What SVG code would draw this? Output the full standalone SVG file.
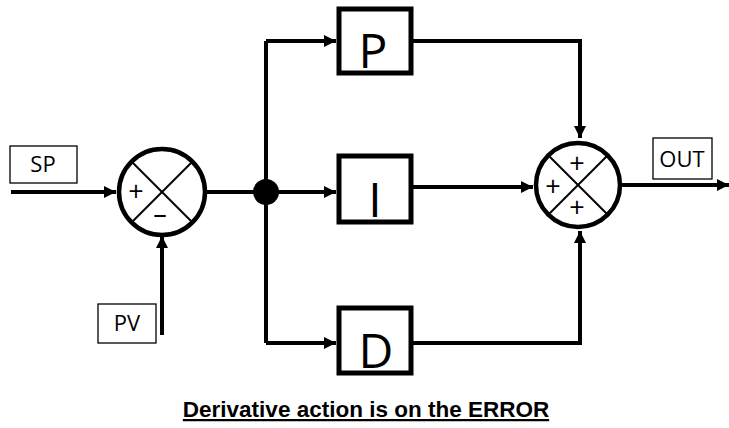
<svg xmlns="http://www.w3.org/2000/svg" width="729" height="428" viewBox="0 0 729 428">
<style>
.ln{fill:none;stroke:#000;stroke-width:4}
.blk{fill:#fff;stroke:#000;stroke-width:5}
.lbl{fill:#fff;stroke:#000;stroke-width:1.3}
.sum{fill:#fff;stroke:#000;stroke-width:4.5}
.x{stroke:#000;stroke-width:2}
.t{font-family:"Open Sans","Liberation Sans",sans-serif;fill:#000;text-anchor:middle}
.big{font-size:48px}
.sm{font-size:22px}
.sg{font-size:27px}
.cap{font-family:"Liberation Sans",Arial,sans-serif;font-weight:bold;font-size:22.5px;text-anchor:middle;text-decoration:underline}
</style>
<defs>
<marker id="ah" viewBox="0 0 10 10" refX="10" refY="5" markerWidth="3" markerHeight="3" markerUnits="strokeWidth" orient="auto">
<path d="M0,0 L10,5 L0,10 z" fill="#000"/>
</marker>
</defs>
<rect width="729" height="428" fill="#fff"/>
<g id="connectors">
<line class="ln" x1="11" y1="192" x2="116" y2="192" marker-end="url(#ah)"/>
<line class="ln" x1="162" y1="335" x2="162" y2="236" marker-end="url(#ah)"/>
<line class="ln" x1="205" y1="192" x2="266" y2="192"/>
<line class="ln" x1="266" y1="192" x2="336" y2="192" marker-end="url(#ah)"/>
<polyline class="ln" points="266,41 266,343"/>
<polyline class="ln" points="266,41 336,41" marker-end="url(#ah)"/>
<polyline class="ln" points="266,343 336,343" marker-end="url(#ah)"/>
<polyline class="ln" points="413,41 580,41 580,138" marker-end="url(#ah)"/>
<polyline class="ln" points="413,187 533,187" marker-end="url(#ah)"/>
<polyline class="ln" points="413,343 580,343 580,231" marker-end="url(#ah)"/>
<line class="ln" x1="622" y1="185" x2="729" y2="185" marker-end="url(#ah)"/>
<circle cx="266" cy="192" r="13" fill="#000"/>
</g>
<g id="sp"><rect class="lbl" x="10" y="146" width="67" height="37"/><text class="t sm" x="43" y="172">SP</text></g>
<g id="pv"><rect class="lbl" x="98" y="304" width="58" height="39"/><text class="t sm" x="127" y="331">PV</text></g>
<g id="out"><rect class="lbl" x="653" y="138" width="59" height="41"/><text class="t sm" x="682" y="167">OUT</text></g>
<g id="sum1">
<circle class="sum" cx="162" cy="192" r="43"/>
<line class="x" x1="132" y1="162" x2="192" y2="222"/>
<line class="x" x1="192" y1="162" x2="132" y2="222"/>
<text class="t sg" x="136" y="201">+</text>
<text class="t sg" x="160" y="223">–</text>
</g>
<g id="p"><rect class="blk" x="339" y="9" width="72" height="64"/><text class="t big" x="373" y="68">P</text></g>
<g id="i"><rect class="blk" x="339" y="156" width="72" height="66"/><text class="t big" x="375" y="217">I</text></g>
<g id="d"><rect class="blk" x="339" y="308" width="72" height="65"/><text class="t big" x="376" y="368">D</text></g>
<g id="sum2">
<circle class="sum" cx="578" cy="185" r="42"/>
<line class="x" x1="548" y1="155" x2="608" y2="215"/>
<line class="x" x1="608" y1="155" x2="548" y2="215"/>
<text class="t sg" x="577" y="173">+</text>
<text class="t sg" x="553" y="196">+</text>
<text class="t sg" x="577" y="217">+</text>
</g>
<text class="cap" x="366" y="417">Derivative action is on the ERROR</text>
</svg>
